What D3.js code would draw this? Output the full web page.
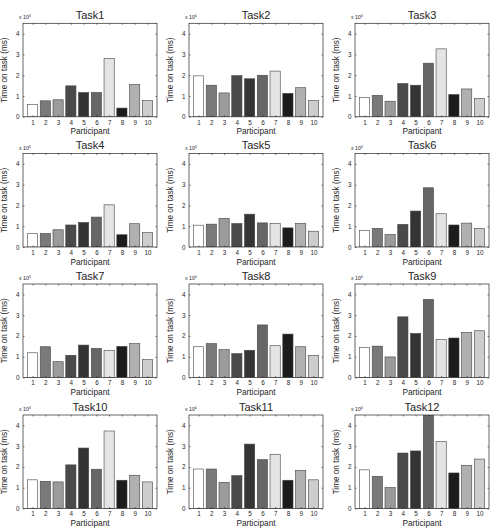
<!DOCTYPE html>
<html><head><meta charset="utf-8">
<script src="https://cdn.jsdelivr.net/npm/d3@7"></script>
<style>body{margin:0;background:#fff}svg{display:block}text{font-family:Arial,"Liberation Sans",sans-serif;fill:#262626}</style>
</head><body><svg id="c" width="490" height="531"></svg>
<script>
const participants = [1,2,3,4,5,6,7,8,9,10];
const taskNames = ["Task1","Task2","Task3","Task4","Task5","Task6","Task7","Task8","Task9","Task10","Task11","Task12"];
const yTicks = [0,10000,20000,30000,40000];
const barColors = ["#ffffff","#7a7a7a","#9b9b9b","#4a4a4a","#343434","#666666","#e4e4e4","#1c1c1c","#b0b0b0","#cdcdcd"];
const task1  = [5900, 7700, 8200, 14900, 11700, 11700, 28000, 4200, 15500, 7800];
const task2  = [19700, 15200, 11500, 19800, 18300, 20000, 22000, 11300, 14000, 7800];
const task3  = [9300, 10300, 7500, 16000, 15200, 25800, 32700, 10700, 13400, 8800];
const task4  = [6400, 6500, 8300, 10600, 11800, 14400, 20300, 5900, 11200, 6900];
const task5  = [10500, 11000, 13800, 11300, 15800, 11600, 11300, 9200, 11300, 7600];
const task6  = [8000, 9000, 6000, 10900, 17300, 28500, 16000, 10600, 11500, 9000];
const task7  = [11900, 14800, 7600, 10700, 15600, 14000, 13100, 15000, 16300, 8600];
const task8  = [14800, 16300, 13400, 11500, 13100, 25300, 15300, 20900, 14800, 10700];
const task9  = [14500, 15100, 9900, 29200, 21200, 37600, 18300, 19000, 21700, 22500];
const task10 = [13800, 13100, 12800, 21000, 29100, 18900, 37300, 13600, 16000, 12800];
const task11 = [19000, 19000, 12600, 15800, 31000, 23500, 26100, 13600, 18400, 13800];
const task12 = [18600, 15500, 10100, 26700, 27700, 46000, 32200, 17100, 20800, 23800];
const taskValues = [task1,task2,task3,task4,task5,task6,task7,task8,task9,task10,task11,task12];

const svg = d3.select("#c");
const colLeft = [23, 189, 355];
const rowTop = [23.3, 153.5, 284, 415];
const W = 134, H = 93.5;
const defs = svg.append("defs");

taskNames.forEach((name, i) => {
  const r = Math.floor(i/3), c = i%3;
  const L = colLeft[c], T = rowTop[r];
  const x = d3.scaleLinear().domain([0.25, 10.75]).range([L, L+W]);
  const y = d3.scaleLinear().domain([0, 45000]).range([T+H, T]);
  const g = svg.append("g");
  defs.append("clipPath").attr("id","cp"+i).append("rect").attr("x",L).attr("y",T).attr("width",W).attr("height",H);
  const bw = x(0.8) - x(0);
  g.append("g").attr("clip-path","url(#cp"+i+")").selectAll("rect").data(taskValues[i]).join("rect")
    .attr("x",(d,j)=>x(participants[j]) - bw/2)
    .attr("y",d=>y(d)).attr("width",bw).attr("height",d=>y(0)-y(d))
    .attr("fill",(d,j)=>barColors[j]).attr("stroke","#444").attr("stroke-width",0.6);
  const tl = 1.5;
  const xb = d3.axisBottom(x).tickValues(participants).tickSize(-tl).tickPadding(3.5).tickFormat(d3.format("d"));
  const xt = d3.axisTop(x).tickValues(participants).tickSize(-tl).tickFormat("");
  const yl = d3.axisLeft(y).tickValues(yTicks).tickSize(-tl).tickPadding(3.5).tickFormat(d=>d/10000);
  const yr = d3.axisRight(y).tickValues(yTicks).tickSize(-tl).tickFormat("");
  [[xb,"translate(0,"+(T+H)+")"],[xt,"translate(0,"+T+")"],[yl,"translate("+L+",0)"],[yr,"translate("+(L+W)+",0)"]].forEach(([ax,tr])=>{
    const a = g.append("g").attr("transform",tr).call(ax);
    a.select(".domain").remove();
    a.selectAll("line").attr("stroke","#262626").attr("stroke-width",0.6);
    a.selectAll("text").attr("font-size",6.3).attr("fill","#262626").attr("font-family","Arial, 'Liberation Sans', sans-serif");
  });
  g.append("rect").attr("x",L).attr("y",T).attr("width",W).attr("height",H).attr("fill","none").attr("stroke","#262626").attr("stroke-width",0.7);
  g.append("text").attr("x",L+W/2).attr("y",T-4.5).attr("text-anchor","middle").attr("font-size",11).text(name);
  g.append("text").attr("x",L+W/2).attr("y",T+H+17.5).attr("text-anchor","middle").attr("font-size",8.3).text("Participant");
  g.append("text").attr("transform","translate("+(L-16.5)+","+(T+H/2)+") rotate(-90)").attr("text-anchor","middle").attr("font-size",8.2).text("Time on task (ms)");
  const m = g.append("text").attr("x",L-4).attr("y",T-4).attr("font-size",5.2);
  m.append("tspan").text("x 10");
  m.append("tspan").attr("dy",-2).attr("font-size",3.6).text("4");
});
</script></body></html>
